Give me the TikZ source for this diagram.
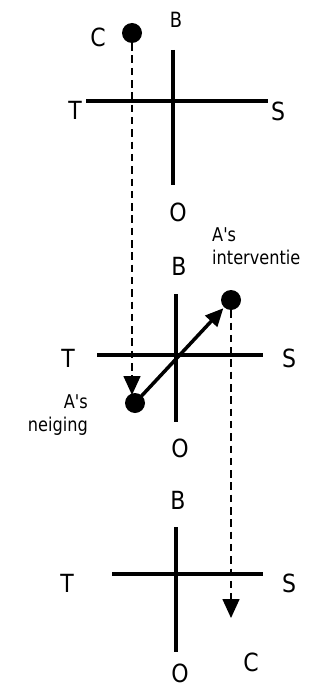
\documentclass[tikz,border=0pt]{standalone}
\usepackage{fontspec}
\setmainfont[Ligatures=TeXOff]{DejaVu Sans}
\newfontfamily\bigfont[Ligatures=TeXOff, FakeStretch=0.88]{DejaVu Sans}
\newfontfamily\notefont[Ligatures=TeXOff, FakeStretch=0.85]{DejaVu Sans}
\usetikzlibrary{arrows.meta}
\tikzset{
  axis/.style={line width=4pt},
  biglbl/.style={inner sep=0pt, font=\bigfont\fontsize{25}{28}\selectfont},
  smalllbl/.style={inner sep=0pt, font=\notefont\fontsize{21}{21}\selectfont},
  note/.style={inner sep=0pt, font=\notefont\fontsize{19}{23.5}\selectfont},
  dot/.style={circle, fill=black, inner sep=0pt, minimum size=20pt},
  dashedarrow/.style={dash pattern=on 7.5pt off 4.8pt, line width=1.6pt, -{Triangle[width=17pt,length=19pt]}},
  solidarrow/.style={line width=3.5pt, -{Triangle[width=16pt,length=18pt]}, shorten >=1pt}
}
\begin{document}
\begin{tikzpicture}[x=1pt,y=1pt]
\useasboundingbox (0,0) rectangle (329,-687);
% ---------- panel 1 ----------
\coordinate (p1n) at (173,-50);
\coordinate (p1s) at (173,-185);
\coordinate (p1w) at (86,-101);
\coordinate (p1e) at (268,-101);
\draw[axis] (p1n) -- (p1s);
\draw[axis] (p1w) -- (p1e);
\node[smalllbl] (p1B) at (176,-20) {B};
\node[biglbl] (p1T) at (75,-110) {T};
\node[biglbl] (p1S) at (278,-111) {S};
\node[biglbl] (p1O) at (178,-212) {O};
\node[biglbl] (p1C) at (98,-37) {C};
\node[dot] (cdot) at (132,-33) {};
% ---------- panel 2 ----------
\coordinate (p2n) at (176,-294);
\coordinate (p2s) at (176,-422);
\coordinate (p2w) at (97,-355);
\coordinate (p2e) at (263,-355);
\draw[axis] (p2n) -- (p2s);
\draw[axis] (p2w) -- (p2e);
\node[biglbl] (p2B) at (179,-266) {B};
\node[biglbl] (p2T) at (68,-358) {T};
\node[biglbl] (p2S) at (289,-358) {S};
\node[biglbl] (p2O) at (180,-448) {O};
\node[dot] (idot) at (231,-300) {};
\node[dot] (ndot) at (135,-403) {};
\node[note, align=left, anchor=north west] (ilbl) at (212,-227) {A's\\interventie};
\node[note, align=right, anchor=north east] (nlbl) at (88,-394) {A's\\neiging};
\coordinate (ctip) at (132,-395);
\draw[dashedarrow] (cdot.south) -- (ctip);
\draw[solidarrow] (ndot.center) -- (idot);
% ---------- panel 3 ----------
\coordinate (p3n) at (176,-527);
\coordinate (p3s) at (176,-652);
\coordinate (p3w) at (112,-574);
\coordinate (p3e) at (263,-574);
\draw[axis] (p3n) -- (p3s);
\draw[axis] (p3w) -- (p3e);
\node[biglbl] (p3B) at (178,-500) {B};
\node[biglbl] (p3T) at (67,-583) {T};
\node[biglbl] (p3S) at (289,-583) {S};
\node[biglbl] (p3O) at (180,-673) {O};
\node[biglbl] (p3C) at (251,-662) {C};
\coordinate (itip) at (231,-618);
\draw[dashedarrow] (idot.south) -- (itip);
\end{tikzpicture}
\end{document}
